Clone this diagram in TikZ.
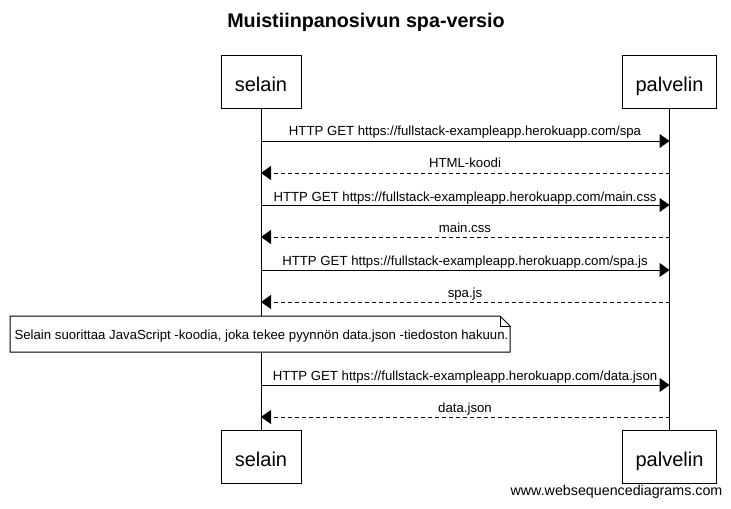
\documentclass[tikz,border=0pt]{standalone}
\usepackage{fontspec}
\setmainfont{Liberation Sans}
\usetikzlibrary{arrows.meta}
\begin{document}
\begin{tikzpicture}[x=0.75pt,y=-0.75pt,
  actor/.style={draw,line width=0.75pt,minimum width=60pt,minimum height=39.75pt,font=\fontsize{15}{18}\selectfont,inner sep=0pt,text height=14.6pt,text depth=0pt},
  actorp/.style={actor,minimum width=71pt},
  msg/.style={line width=0.75pt,-{Triangle[length=7.5pt,width=10.5pt]}},
  ret/.style={msg,dash pattern=on 3pt off 2.25pt},
  lbl/.style={font=\fontsize{9.9}{12}\selectfont,inner sep=1pt,anchor=base},
  life/.style={line width=0.75pt}]
\useasboundingbox (0,0) rectangle (731,508);
\node[font=\bfseries\fontsize{14.8}{17}\selectfont] (title) at (366,22) {Muistiinpanosivun spa-versio};
\node[actor] (s1) at (261,81.5) {selain};
\node[actorp] (p1) at (669.5,81.5) {palvelin};
\node[actor] (s2) at (261,456.5) {selain};
\node[actorp] (p2) at (669.5,456.5) {palvelin};
\draw[life] (s1.south) -- (s2.north);
\draw[life] (p1.south) -- (p2.north);
% messages
\coordinate (a1) at (261,141); \coordinate (b1) at (669.5,141);
\coordinate (a2) at (261,173); \coordinate (b2) at (669.5,173);
\coordinate (a3) at (261,205); \coordinate (b3) at (669.5,205);
\coordinate (a4) at (261,237); \coordinate (b4) at (669.5,237);
\coordinate (a5) at (261,270); \coordinate (b5) at (669.5,270);
\coordinate (a6) at (261,302); \coordinate (b6) at (669.5,302);
\coordinate (a7) at (261,385); \coordinate (b7) at (669.5,385);
\coordinate (a8) at (261,417); \coordinate (b8) at (669.5,417);
\draw[msg] (a1) -- (b1);
\node[lbl] (l1) at (465,135) {HTTP GET https://fullstack-exampleapp.herokuapp.com/spa};
\draw[ret] (b2) -- (a2);
\node[lbl] (l2) at (465,167) {HTML-koodi};
\draw[msg] (a3) -- (b3);
\node[lbl] (l3) at (465,201) {HTTP GET https://fullstack-exampleapp.herokuapp.com/main.css};
\draw[ret] (b4) -- (a4);
\node[lbl] (l4) at (465,232) {main.css};
\draw[msg] (a5) -- (b5);
\node[lbl] (l5) at (465,265) {HTTP GET https://fullstack-exampleapp.herokuapp.com/spa.js};
\draw[ret] (b6) -- (a6);
\node[lbl] (l6) at (465,297) {spa.js};
% note
\draw[line width=0.75pt,fill=white] (10,316) -- (500,316) -- (510,326) -- (510,352) -- (10,352) -- cycle;
\draw[line width=0.75pt] (500,316) -- (500,326) -- (510,326);
\node[lbl] (note) at (261.5,339) {Selain suorittaa JavaScript -koodia, joka tekee pyynnön data.json -tiedoston hakuun.};
\draw[msg] (a7) -- (b7);
\node[lbl] (l7) at (465,380) {HTTP GET https://fullstack-exampleapp.herokuapp.com/data.json};
\draw[ret] (b8) -- (a8);
\node[lbl] (l8) at (465,412) {data.json};
\node[font=\fontsize{10.7}{12}\selectfont,inner sep=0pt] (wsd) at (616.5,492) {www.websequencediagrams.com};
\end{tikzpicture}
\end{document}
